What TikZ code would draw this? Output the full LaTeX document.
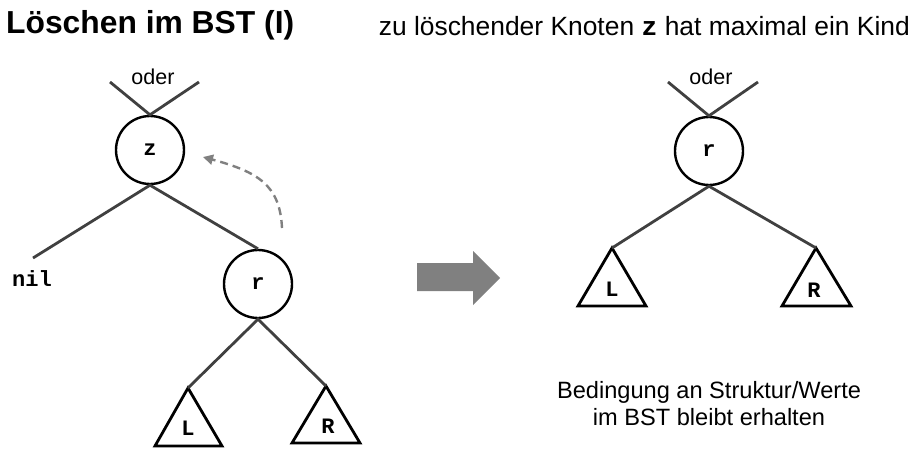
\documentclass[tikz,border=0pt]{standalone}
\usepackage{fontspec}
\setmainfont{Liberation Sans}
\newfontfamily\cour{Liberation Mono}
\usetikzlibrary{arrows.meta}
\definecolor{edgegray}{RGB}{64,64,64}
\definecolor{arrgray}{RGB}{128,128,128}
\begin{document}
\begin{tikzpicture}[x=1pt,y=-1pt,
  keynode/.style={circle,draw=black,line width=2.4pt,minimum size=68pt,inner sep=0pt,font=\cour\bfseries\fontsize{22}{22}\selectfont},
  edge/.style={draw=edgegray,line width=2.8pt},
  tri/.style={draw=black,line width=2.8pt,line join=miter},
  lbl/.style={font=\cour\bfseries\fontsize{22}{22}\selectfont,inner sep=0pt},
  txt/.style={font=\fontsize{21.5}{21.5}\selectfont,inner sep=0pt}]
\useasboundingbox (0,0) rectangle (916,471);
% title
\node[anchor=west,font=\bfseries\fontsize{31.8}{31.8}\selectfont,inner sep=0pt] (title) at (6,25) {Löschen im BST (I)};
\node[anchor=east,font=\fontsize{26.4}{26.4}\selectfont,inner sep=0pt] (sub) at (910,26) {zu löschender Knoten {\cour\bfseries z} hat maximal ein Kind};
% left tree
\node[keynode] (z) at (150,150) {z};
\node[txt] (oderL) at (153,77) {oder};
\coordinate (zl) at (110,82);
\coordinate (zr) at (199,82);
\draw[edge] (zl) -- (z.north) -- (zr);
\coordinate (nilend) at (33,258);
\node[lbl] (nil) at (32,279) {nil};
\node[keynode] (r) at (258,284) {r};
\draw[edge] (nilend) -- (z.south) -- (r.north);
% triangles left
\coordinate (La) at (188,388);
\coordinate (Ra) at (326,386);
\draw[tri] (La) -- (155,446) -- (222,446) -- cycle;
\draw[tri] (Ra) -- (292,443) -- (360,443) -- cycle;
\node[lbl] (Ll) at (188,428) {L};
\node[lbl] (Rl) at (328,426) {R};
\draw[edge] (La) -- (r.south) -- (Ra);
% dashed arrow
\coordinate (ds) at (282,228);
\coordinate (de) at (203,157);
\draw[arrgray,line width=2.4pt,dash pattern=on 8pt off 5pt,-{Triangle[length=10pt,width=10pt]}] (ds) .. controls (280,185) and (258,172) .. (de);
% big arrow
\fill[arrgray] (417,263) -- (473,263) -- (473,251) -- (500,278) -- (473,305) -- (473,291) -- (417,291) -- cycle;
% right tree
\node[keynode] (r2) at (709,151) {r};
\node[txt] (oderR) at (711,77) {oder};
\coordinate (rl) at (668,82);
\coordinate (rr) at (758,82);
\draw[edge] (rl) -- (r2.north) -- (rr);
\coordinate (La2) at (612,248);
\coordinate (Ra2) at (816,248);
\draw[tri] (La2) -- (578,306) -- (646,306) -- cycle;
\draw[tri] (Ra2) -- (782,306) -- (851,306) -- cycle;
\node[lbl] (Ll2) at (612,289) {L};
\node[lbl] (Rl2) at (814,290) {R};
\draw[edge] (La2) -- (r2.south) -- (Ra2);
% bottom text
\node[align=center,inner sep=0pt,font=\fontsize{23.6}{27}\selectfont] (cond) at (709,404) {Bedingung an Struktur/Werte\\im BST bleibt erhalten};
\end{tikzpicture}
\end{document}
